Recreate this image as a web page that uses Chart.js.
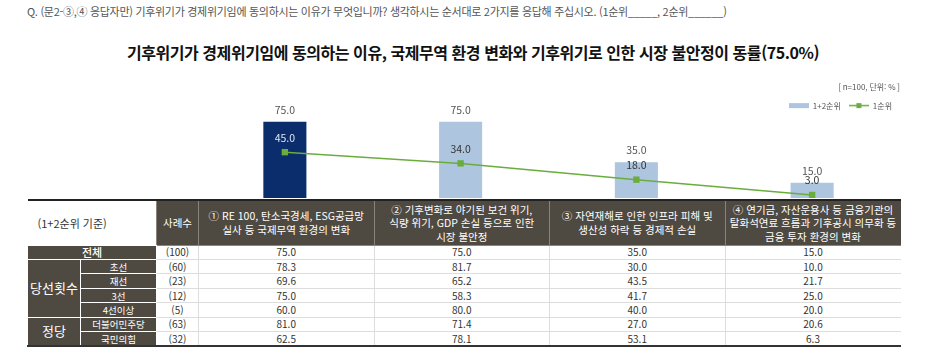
<!DOCTYPE html>
<html lang="ko">
<head>
<meta charset="utf-8">
<script src="https://cdn.jsdelivr.net/npm/chart.js@4.4.1/dist/chart.umd.min.js"></script>
<style>
  html, body { margin: 0; padding: 0; background: #fff; }
  body { width: 940px; height: 354px; position: relative; overflow: hidden;
         font-family: 'Noto Sans CJK KR', 'Noto Sans', sans-serif; }
  #q { position: absolute; left: 27px; top: 3px; font-size: 11px; color: #555; white-space: nowrap; letter-spacing: -0.3px; }
  #title { position: absolute; left: 0; width: 946px; top: 40px; text-align: center; font-size: 16px;
           font-weight: 700; color: #111; letter-spacing: -0.45px; white-space: nowrap; }
  #chart { position: absolute; left: 197px; top: 80px; display: block; }
  table { position: absolute; left: 27px; top: 199px; width: 873px; border-collapse: collapse;
          table-layout: fixed; border-top: 2px solid #222; border-bottom: 2px solid #333; }
  tr { height: 14.45px; }
  tr.head { height: 45px; }
  td { padding: 0; text-align: center; font-size: 10px; color: #333; line-height: 12px;
       border-bottom: 1px solid #ddd; border-left: 1px solid #ddd; white-space: nowrap; overflow: hidden; }
  td.hd { background: #4f4a41; color: #fff; font-size: 10.5px; line-height: 13.5px;
          border-left: 1px solid #8a857c; border-bottom: 1px solid #8a857c; }
  td.base { background: #fff; color: #333; font-size: 11px; text-align: left; padding-left: 10px;
            border-left: none; border-bottom: 1px solid #fff; }
  td.lb { background: #4f4a41; color: #fff; border: 1px solid #fff; }
  td.grp { font-size: 13px; }
  td.all { font-size: 11px; font-weight: 500; }
  td.sub { font-size: 9.5px; }
</style>
</head>
<body>
<div id="q">Q. (문2-③,④ 응답자만) 기후위기가 경제위기임에 동의하시는 이유가 무엇입니까? 생각하시는 순서대로 2가지를 응답해 주십시오. (1순위_____, 2순위______)</div>
<div id="title">기후위기가 경제위기임에 동의하는 이유, 국제무역 환경 변화와 기후위기로 인한 시장 불안정이 동률(75.0%)</div>
<canvas id="chart" width="703" height="118"></canvas>
<table id="tbl"></table>
<script>
// categories (column headers of the table, one per bar)
var CATS = [
  ['① RE 100, 탄소국경세, ESG공급망', '실사 등 국제무역 환경의 변화'],
  ['② 기후변화로 야기된 보건 위기,', '식량 위기, GDP 손실 등으로 인한', '시장 불안정'],
  ['③ 자연재해로 인한 인프라 피해 및', '생산성 하락 등 경제적 손실'],
  ['④ 연기금, 자산운용사 등 금융기관의', '탈화석연료 흐름과 기후공시 의무화 등', '금융 투자 환경의 변화']
];
var TOP12 = [75.0, 75.0, 35.0, 15.0];   // 1+2순위
var TOP1  = [45.0, 34.0, 18.0, 3.0];    // 1순위

// table rows
var ROW_GROUP = ['전체', '당선횟수', '당선횟수', '당선횟수', '당선횟수', '정당', '정당'];
var ROW_SUB   = ['', '초선', '재선', '3선', '4선이상', '더불어민주당', '국민의힘'];
var ROW_N     = [100, 60, 23, 12, 5, 63, 32];
var ROW_VALS  = [
  [75.0, 75.0, 35.0, 15.0],
  [78.3, 81.7, 30.0, 10.0],
  [69.6, 65.2, 43.5, 21.7],
  [75.0, 58.3, 41.7, 25.0],
  [60.0, 80.0, 40.0, 20.0],
  [81.0, 71.4, 27.0, 20.6],
  [62.5, 78.1, 53.1, 6.3]
];

var NAVY = '#0c2d6b', LIGHT = '#adc5de', GREEN = '#6aad3d', FONT = "'Noto Sans CJK KR', 'Noto Sans', sans-serif";

// ---- table ----
(function () {
  var h = '<colgroup><col style="width:53px"><col style="width:76px"><col style="width:42px">' +
          '<col style="width:175.5px"><col style="width:175.5px"><col style="width:175.5px"><col style="width:175.5px"></colgroup>';
  h += '<tr class="head"><td class="base" colspan="2">(1+2순위 기준)</td><td class="hd">사례수</td>';
  CATS.forEach(function (c) { h += '<td class="hd">' + c.join('<br>') + '</td>'; });
  h += '</tr>';
  for (var i = 0; i < ROW_GROUP.length; i++) {
    h += '<tr>';
    if (!ROW_SUB[i]) {
      h += '<td class="lb all" colspan="2">' + ROW_GROUP[i] + '</td>';
    } else {
      if (i === 0 || ROW_GROUP[i - 1] !== ROW_GROUP[i]) {
        var span = ROW_GROUP.filter(function (g) { return g === ROW_GROUP[i]; }).length;
        h += '<td class="lb grp" rowspan="' + span + '">' + ROW_GROUP[i] + '</td>';
      }
      h += '<td class="lb sub">' + ROW_SUB[i] + '</td>';
    }
    h += '<td>(' + ROW_N[i] + ')</td>';
    ROW_VALS[i].forEach(function (v) { h += '<td>' + v.toFixed(1) + '</td>'; });
    h += '</tr>';
  }
  document.getElementById('tbl').innerHTML = h;
})();

// ---- legend swatches ----
function swatch(kind) {
  var c = document.createElement('canvas');
  c.width = 20; c.height = 7;
  var x = c.getContext('2d');
  if (kind === 'bar') {
    x.fillStyle = LIGHT; x.fillRect(0, 1, 20, 5);
  } else {
    x.strokeStyle = GREEN; x.lineWidth = 1.5;
    x.beginPath(); x.moveTo(0, 3.5); x.lineTo(20, 3.5); x.stroke();
    x.fillStyle = GREEN; x.fillRect(7.5, 1, 5, 5);
  }
  return c;
}
var SW = [swatch('bar'), swatch('line')];

// value labels above bars and points
var valueLabels = {
  id: 'valueLabels',
  afterDatasetsDraw: function (chart) {
    var ctx = chart.ctx;
    ctx.save();
    ctx.textAlign = 'center'; ctx.textBaseline = 'middle';
    ctx.font = '10.5px ' + FONT;
    chart.getDatasetMeta(0).data.forEach(function (b, i) {
      ctx.fillStyle = '#555';
      ctx.fillText(TOP12[i].toFixed(1), b.x, b.y - 12);
    });
    chart.getDatasetMeta(1).data.forEach(function (p, i) {
      ctx.fillStyle = i === 0 ? '#dfe6f2' : '#333';
      ctx.fillText(TOP1[i].toFixed(1), p.x, Math.min(p.y - 14.5, chart.chartArea.bottom - 12));
    });
    ctx.restore();
  }
};

new Chart(document.getElementById('chart').getContext('2d'), {
  type: 'bar',
  data: {
    labels: CATS.map(function (c) { return c.join(' '); }),
    datasets: [
      { type: 'bar', label: '1+2순위', data: TOP12, order: 1,
        backgroundColor: TOP12.map(function (_, i) { return i === 0 ? NAVY : LIGHT; }),
        categoryPercentage: 1, barPercentage: 0.245 },
      { type: 'line', label: '1순위', data: TOP1, order: 0, clip: false,
        borderColor: GREEN, borderWidth: 1.5, tension: 0, fill: false,
        pointStyle: 'rect', pointRadius: 4.5, pointBackgroundColor: GREEN, pointBorderColor: GREEN, pointBorderWidth: 0 }
    ]
  },
  options: {
    responsive: false, animation: false,
    layout: { padding: 0, autoPadding: false },
    events: [],
    plugins: {
      title: { display: true, text: '[ n=100, 단위: % ]', align: 'end', color: '#555',
               font: { family: FONT, size: 8, weight: 'normal' }, padding: { top: 2, bottom: 2 } },
      legend: { display: true, position: 'top', align: 'end',
        labels: { usePointStyle: true, pointStyleWidth: 20, boxHeight: 8, padding: 8, color: '#555',
          font: { family: FONT, size: 8 },
          sort: function (a, b) { return a.datasetIndex - b.datasetIndex; },
          generateLabels: function (chart) {
            return Chart.defaults.plugins.legend.labels.generateLabels(chart).map(function (it) {
              it.pointStyle = SW[it.datasetIndex];
              return it;
            });
          } } },
      tooltip: { enabled: false }
    },
    scales: {
      x: { display: false },
      y: { display: false, min: 0, max: 77 }
    }
  },
  plugins: [valueLabels]
});
</script>
</body>
</html>
